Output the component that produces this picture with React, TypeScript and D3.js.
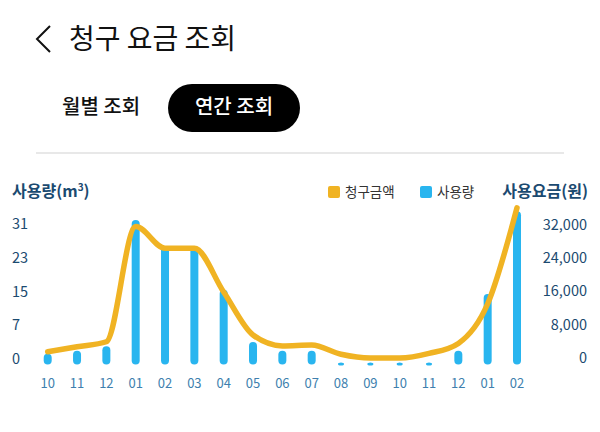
import { useMemo } from "react";
import * as d3 from "d3";

// ── Data ──────────────────────────────────────────────────────────────────────

const MONTHS = ["10", "11", "12", "01", "02", "03", "04", "05", "06", "07", "08", "09", "10", "11", "12", "01", "02"];
const USAGE = [0.3, 1, 2, 31, 25, 25, 15, 3, 1, 1, 0, 0, 0, 0, 1, 14, 33];
const BILL = [1500, 2700, 3900, 31500, 26300, 26300, 15800, 5500, 2900, 3100, 900, 0, 0, 1100, 3500, 13000, 36000];
const USAGE_TICKS = [0, 7.75, 15.5, 23.25, 31];
const BILL_TICKS = [0, 8000, 16000, 24000, 32000];

const W = 600;
const H = 432;
const BLUE = "#29B5EF";
const ORANGE = "#F0B323";
const NAVY = "#1B4A70";
const FONT = "'Noto Sans CJK KR', 'Noto Sans', sans-serif";

export default function App() {
  const x = useMemo(
    () => d3.scalePoint<number>().domain(MONTHS.map((_, i) => i)).range([47.7, 517]),
    []
  );
  const yUsage = d3.scaleLinear().domain([0, 31]).range([359, 224]);
  const yBill = d3.scaleLinear().domain([0, 32000]).range([358, 224.5]);

  const line = d3
    .line<number>()
    .x((_, i) => x(i) ?? 0)
    .y((d) => yBill(d))
    .curve(d3.curveMonotoneX);

  return (
    <svg
      width={W}
      height={H}
      style={{ position: "absolute", left: 0, top: 0, background: "#fff", fontFamily: FONT }}
    >
      {/* Header */}
      <path d="M50,26 L37,39 L50,52" fill="none" stroke="#111" strokeWidth={2} />
      <text x={69} y={49} fontSize={28} fill="#111">청구 요금 조회</text>

      <text x={62} y={114} fontSize={20} fontWeight={500} fill="#111">월별 조회</text>
      <rect x={168} y={84} width={132} height={48} rx={24} fill="#000" />
      <text x={234} y={114} fontSize={20} fontWeight={500} fill="#fff" textAnchor="middle">연간 조회</text>

      <line x1={36} x2={564} y1={153} y2={153} stroke="#e8e8e8" strokeWidth={2} />

      {/* Axis titles */}
      <text x={12} y={197} fontSize={16} fontWeight={700} fill={NAVY}>
        사용량(m<tspan fontSize={10} dy={-6}>3</tspan><tspan dy={6}>)</tspan>
      </text>
      <text x={588} y={197} fontSize={16} fontWeight={700} fill={NAVY} textAnchor="end">사용요금(원)</text>

      {/* Legend */}
      <rect x={328} y={186} width={12} height={12} rx={2} fill={ORANGE} />
      <text x={345} y={197} fontSize={13.5} fill="#333">청구금액</text>
      <rect x={420} y={186} width={12} height={12} rx={2} fill={BLUE} />
      <text x={437} y={197} fontSize={13.5} fill="#333">사용량</text>

      {/* Left ticks */}
      {USAGE_TICKS.map((t) => (
        <text key={t} x={12} y={yUsage(t) + 5} fontSize={14.5} fill={NAVY}>
          {Math.floor(t)}
        </text>
      ))}
      {/* Right ticks */}
      {BILL_TICKS.map((t) => (
        <text key={t} x={587} y={yBill(t) + 5} fontSize={14.5} fill={NAVY} textAnchor="end">
          {d3.format(",")(t)}
        </text>
      ))}

      {/* Bars */}
      {USAGE.map((v, i) =>
        v > 0 ? (
          <line
            key={i}
            x1={x(i)}
            x2={x(i)}
            y1={yUsage(0) + 1.5}
            y2={yUsage(v)}
            stroke={BLUE}
            strokeWidth={8}
            strokeLinecap="round"
          />
        ) : (
          <ellipse key={i} cx={x(i)} cy={yUsage(0) + 5} rx={3} ry={1.5} fill={BLUE} />
        )
      )}

      {/* Bill line */}
      <path d={line(BILL) ?? ""} fill="none" stroke={ORANGE} strokeWidth={5.5} strokeLinecap="round" />

      {/* X labels */}
      {MONTHS.map((m, i) => (
        <text key={i} x={x(i)} y={388} fontSize={13} fill="#3E7FAE" textAnchor="middle">
          {m}
        </text>
      ))}
    </svg>
  );
}
